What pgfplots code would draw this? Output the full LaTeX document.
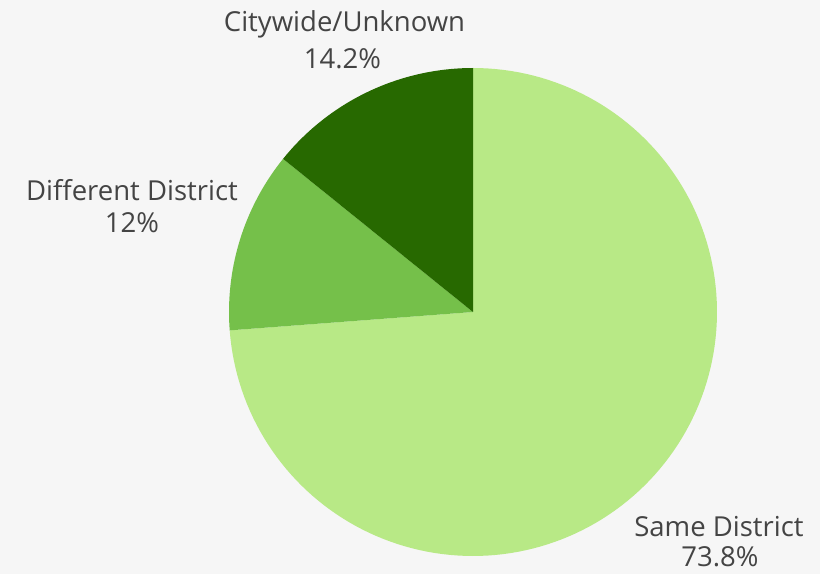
\documentclass[border=0pt]{standalone}
\usepackage{pgfplots}
\pgfplotsset{compat=1.18}
\usepackage{fontspec}
\setmainfont{Open Sans}

\definecolor{bgc}{HTML}{F6F6F6}
\definecolor{same}{HTML}{B8E986}
\definecolor{diff}{HTML}{75C04A}
\definecolor{city}{HTML}{276900}
\definecolor{txt}{HTML}{444444}

% shares in percent, clockwise from 12 o'clock
\def\sameP{73.8}
\def\diffP{12}
\def\cityP{14.2}
\pgfmathsetmacro\aA{90}
\pgfmathsetmacro\aB{\aA-3.6*\sameP}
\pgfmathsetmacro\aC{\aB-3.6*\diffP}
\pgfmathsetmacro\aD{\aC-3.6*\cityP}

\tikzset{lbl/.style={anchor=base, text=txt, inner sep=0pt,
    font=\fontsize{27.5bp}{33bp}\selectfont}}

\begin{document}
\begin{tikzpicture}
\begin{axis}[
    width=820bp, height=574bp,
    scale only axis,
    hide axis,
    xmin=0, xmax=820,
    ymin=0, ymax=574,
    clip=false,
]
\fill[bgc] (axis cs:0,0) rectangle (axis cs:820,574);

% pie slices, centre (473,262), radius 244
\addplot[fill=same, draw=none, domain=\aB:\aA, samples=150]
    ({473+244*cos(x)}, {262+244*sin(x)}) -- (axis cs:473,262) -- cycle;
\addplot[fill=diff, draw=none, domain=\aC:\aB, samples=40]
    ({473+244*cos(x)}, {262+244*sin(x)}) -- (axis cs:473,262) -- cycle;
\addplot[fill=city, draw=none, domain=\aD:\aC, samples=40]
    ({473+244*cos(x)}, {262+244*sin(x)}) -- (axis cs:473,262) -- cycle;

\node[lbl] at (axis cs:344.5,542.3) {Citywide/Unknown};
\node[lbl] at (axis cs:342.5,505.5) {14.2\%};
\node[lbl] at (axis cs:132,373.3) {Different District};
\node[lbl] at (axis cs:132,341.3) {12\%};
\node[lbl] at (axis cs:719,38) {Same District};
\node[lbl] at (axis cs:720,7.5) {73.8\%};
\end{axis}
\end{tikzpicture}
\end{document}
